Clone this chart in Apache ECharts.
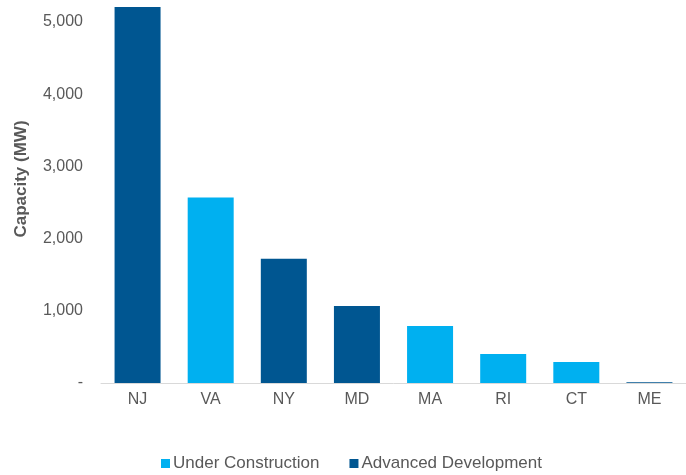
<!DOCTYPE html>
<html>
<head>
<meta charset="utf-8">
<script src="https://cdn.jsdelivr.net/npm/echarts@6/dist/echarts.min.js"></script>
<style>html,body{margin:0;padding:0;background:#fff;}#c{width:686px;height:475px;}</style>
</head>
<body>
<div id="c"></div>
<script>
var categories = ['NJ', 'VA', 'NY', 'MD', 'MA', 'RI', 'CT', 'ME'];
var underConstruction = [null, 2570, null, null, 790, 400, 290, null];
var advancedDevelopment = [5210, null, 1720, 1065, null, null, null, 12];
var yTicks = [0, 1000, 2000, 3000, 4000, 5000];

var chart = echarts.init(document.getElementById('c'));
var font = '"Liberation Sans", Arial, Helvetica, sans-serif';
chart.setOption({
  animation: false,
  grid: { left: 101, top: 4, width: 590, height: 379, containLabel: false },
  xAxis: {
    type: 'category',
    data: categories,
    axisLine: { lineStyle: { color: '#d9d9d9', width: 1 } },
    axisTick: { show: false },
    axisLabel: { color: '#595959', fontSize: 16, fontFamily: font, margin: 9 }
  },
  yAxis: {
    type: 'value',
    min: 0,
    max: 5250,
    interval: 1000,
    splitLine: { show: false },
    axisLine: { show: false },
    axisTick: { show: false },
    axisLabel: {
      color: '#595959', fontSize: 16, fontFamily: font, margin: 18,
      formatter: function (v) {
        if (yTicks.indexOf(v) < 0) return '';
        return v === 0 ? '-' : v.toLocaleString('en-US');
      }
    }
  },
  legend: {
    top: 455,
    left: 161,
    padding: 0,
    itemWidth: 9,
    itemHeight: 9,
    itemGap: 30,
    icon: 'rect',
    textStyle: { color: '#595959', fontSize: 17, fontFamily: font, padding: [0, 0, 0, -2] },
    data: ['Under Construction', 'Advanced Development']
  },
  graphic: [{
    type: 'text',
    x: 21,
    y: 179,
    rotation: Math.PI / 2,
    style: {
      text: 'Capacity (MW)',
      fill: '#595959',
      font: 'bold 17px ' + font,
      align: 'center',
      verticalAlign: 'middle'
    }
  }],
  series: [
    {
      name: 'Under Construction',
      type: 'bar',
      stack: 'a',
      barWidth: 46,
      itemStyle: { color: '#00b0f0' },
      data: underConstruction
    },
    {
      name: 'Advanced Development',
      type: 'bar',
      stack: 'a',
      barWidth: 46,
      itemStyle: { color: '#005691' },
      data: advancedDevelopment
    }
  ]
});
</script>
</body>
</html>
